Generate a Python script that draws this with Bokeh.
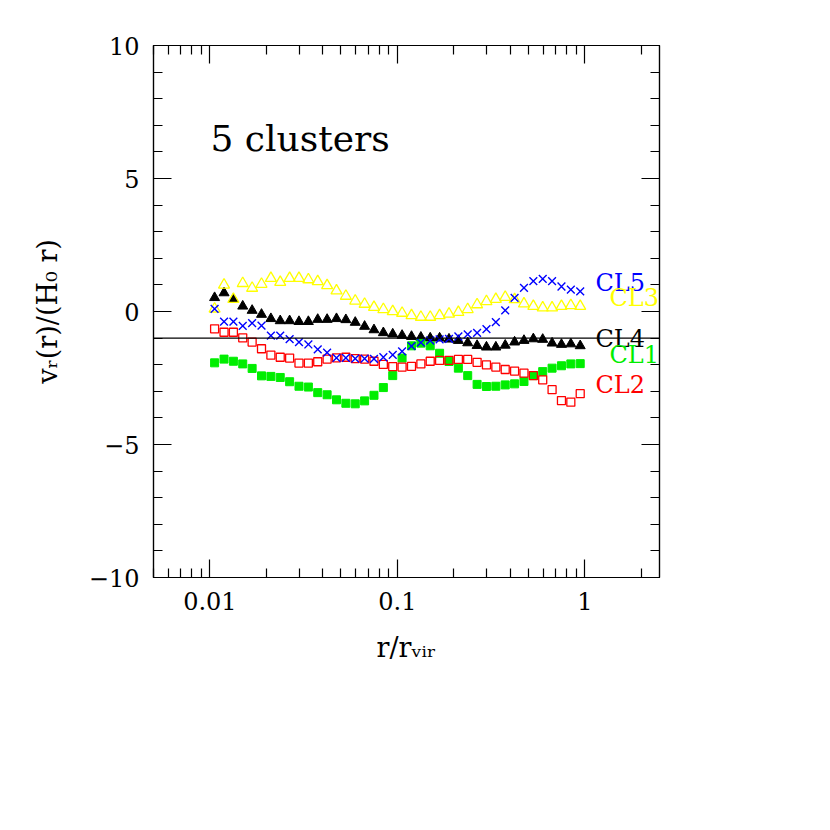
import math
from bokeh.plotting import figure
from bokeh.models import (FixedTicker, LinearAxis, LogAxis, Span, Label, Range1d,
                          CustomJSTickFormatter)
from bokeh.embed import file_html
from bokeh.resources import INLINE

# ---------------- data ----------------
r_over_rvir = [0.01059, 0.01189, 0.01334, 0.01496, 0.01679, 0.01884, 0.02114, 0.02371,
               0.02661, 0.02985, 0.03350, 0.03758, 0.04217, 0.04732, 0.05309, 0.05957,
               0.06683, 0.07499, 0.08414, 0.09441, 0.1059, 0.1189, 0.1334, 0.1496,
               0.1679, 0.1884, 0.2114, 0.2371, 0.2661, 0.2985, 0.3350, 0.3758,
               0.4217, 0.4732, 0.5309, 0.5957, 0.6683, 0.7499, 0.8414, 0.9441]

cl1 = [-1.93, -1.79, -1.87, -1.97, -2.14, -2.42, -2.44, -2.48, -2.64, -2.81,
       -2.84, -3.05, -3.13, -3.32, -3.45, -3.47, -3.36, -3.15, -2.86, -2.41,
       -1.75, -1.29, -1.19, -1.29, -1.57, -1.88, -2.13, -2.41, -2.74, -2.82,
       -2.81, -2.76, -2.72, -2.63, -2.41, -2.26, -2.13, -2.04, -1.97, -1.96]

cl2 = [-0.65, -0.78, -0.78, -0.99, -1.15, -1.40, -1.64, -1.72, -1.75, -1.94,
       -1.94, -1.89, -1.79, -1.74, -1.72, -1.77, -1.79, -1.87, -1.99, -2.07,
       -2.09, -2.06, -1.97, -1.87, -1.84, -1.84, -1.80, -1.80, -1.91, -2.01,
       -2.09, -2.18, -2.24, -2.32, -2.41, -2.57, -2.94, -3.35, -3.41, -3.09]

cl3 = [0.10, 1.00, 0.46, 1.06, 0.88, 1.03, 1.25, 1.10, 1.25, 1.25,
       1.20, 1.13, 0.98, 0.78, 0.58, 0.40, 0.28, 0.16, 0.08, 0.00,
       -0.06, -0.15, -0.21, -0.21, -0.15, -0.09, -0.03, 0.08, 0.26, 0.38,
       0.46, 0.54, 0.45, 0.29, 0.20, 0.14, 0.14, 0.20, 0.23, 0.20]

cl4 = [0.52, 0.70, 0.46, 0.20, 0.04, -0.11, -0.27, -0.35, -0.35, -0.38,
       -0.38, -0.30, -0.30, -0.27, -0.31, -0.41, -0.56, -0.69, -0.80, -0.85,
       -0.90, -0.94, -0.97, -1.00, -1.00, -1.04, -1.09, -1.18, -1.28, -1.34,
       -1.34, -1.27, -1.15, -1.09, -1.03, -1.05, -1.19, -1.24, -1.22, -1.29]

cl5 = [0.10, -0.38, -0.38, -0.54, -0.44, -0.53, -0.91, -0.91, -1.04, -1.15,
       -1.24, -1.42, -1.55, -1.74, -1.74, -1.77, -1.77, -1.78, -1.72, -1.63,
       -1.50, -1.30, -1.17, -1.09, -1.05, -1.03, -0.94, -0.86, -0.80, -0.66,
       -0.40, 0.04, 0.51, 0.89, 1.14, 1.23, 1.14, 0.94, 0.82, 0.76]

reference_level = -1.0

x_major_ticks = [0.01, 0.1, 1.0]
x_major_labels = ["0.01", "0.1", "1"]
x_minor_ticks = [0.005, 0.006, 0.007, 0.008, 0.009,
                 0.02, 0.03, 0.04, 0.05, 0.06, 0.07, 0.08, 0.09,
                 0.2, 0.3, 0.4, 0.5, 0.6, 0.7, 0.8, 0.9, 2.0]
y_major_ticks = [-10, -5, 0, 5, 10]
y_major_labels = ["\u221210", "\u22125", "0", "5", "10"]
y_minor_ticks = list(range(-10, 11))

series_labels = ["CL5", "CL3", "CL4", "CL1", "CL2"]
title_text = "5 clusters"
x_title = "r/r\u1d65\u1d62\u1d63"                 # r/r_vir
y_title = "v\u1d63(r)/(H\u2080 r)"                # v_r(r)/(H_0 r)

# ---------------- layout ----------------
W, H = 790, 790
FL, FT, FW, FH = 153, 45, 506, 532
X0, X1 = 0.005, 2.5
Y0, Y1 = -10.0, 10.0
FONT = "DejaVu Serif"
GREEN = "#00ee00"
BASE_SHIFT = 0.37   # baseline correction (fraction of font size)

def px2x(px):  # page px -> data x
    lx0, lx1 = math.log10(X0), math.log10(X1)
    return 10 ** (lx0 + (px - FL) / FW * (lx1 - lx0))

def py2y(py):  # page px -> data y
    return Y1 - (py - FT) / FH * (Y1 - Y0)

p = figure(width=W, height=H, x_axis_type="log",
           x_range=Range1d(X0, X1), y_range=Range1d(Y0, Y1),
           output_backend="svg", toolbar_location=None,
           min_border_left=FL, min_border_right=W - FL - FW,
           min_border_top=FT, min_border_bottom=H - FT - FH)
p.grid.visible = False
p.outline_line_color = "black"
p.outline_line_width = 1.2
p.background_fill_color = "white"
p.border_fill_color = "white"

def style_axis(ax, show_labels):
    ax.axis_line_color = "black"
    ax.axis_line_width = 1.2
    ax.major_tick_line_color = "black"
    ax.minor_tick_line_color = "black"
    ax.major_tick_line_width = 1.2
    ax.minor_tick_line_width = 1.2
    ax.major_tick_in = 18
    ax.major_tick_out = 0
    ax.minor_tick_in = 9
    ax.minor_tick_out = 0
    ax.major_label_text_font = FONT
    ax.major_label_text_color = "black"
    if show_labels:
        ax.major_label_text_font_size = "24px"
        ax.major_label_standoff = 14
        ax.axis_label_text_font = FONT
        ax.axis_label_text_font_size = "27px"
        ax.axis_label_text_font_style = "normal"
        ax.axis_label_text_color = "black"
    else:
        ax.formatter = CustomJSTickFormatter(code="return ''")
        ax.major_label_text_font_size = "8px"
        ax.major_label_standoff = 0

p.xaxis.ticker = FixedTicker(ticks=x_major_ticks, minor_ticks=x_minor_ticks)
p.yaxis.ticker = FixedTicker(ticks=y_major_ticks, minor_ticks=y_minor_ticks)
p.xaxis.major_label_overrides = {t: s for t, s in zip(x_major_ticks, x_major_labels)}
p.yaxis.major_label_overrides = {t: s for t, s in zip(y_major_ticks, y_major_labels)}
style_axis(p.xaxis[0], True)
style_axis(p.yaxis[0], True)
p.xaxis.axis_label = x_title
p.yaxis.axis_label = y_title
p.xaxis.axis_label_standoff = 19
p.yaxis.axis_label_standoff = 23

top = LogAxis(ticker=FixedTicker(ticks=x_major_ticks, minor_ticks=x_minor_ticks))
right = LinearAxis(ticker=FixedTicker(ticks=y_major_ticks, minor_ticks=y_minor_ticks))
style_axis(top, False)
style_axis(right, False)
p.add_layout(top, "above")
p.add_layout(right, "right")

p.add_layout(Span(location=reference_level, dimension="width",
                  line_color="black", line_width=1.3))

# series
p.scatter(r_over_rvir, cl4, marker="triangle", size=10,
          fill_color="black", line_color="black")
p.scatter(r_over_rvir, cl3, marker="triangle", size=11,
          fill_color=None, line_color="#ffff00", line_width=1.3)
p.scatter(r_over_rvir, cl1, marker="square", size=8,
          fill_color=GREEN, line_color=GREEN)
p.scatter(r_over_rvir, cl2, marker="square", size=8,
          fill_color=None, line_color="#ff0000", line_width=1.3)
p.scatter(r_over_rvir, cl5, marker="x", size=11,
          line_color="#0000ff", line_width=1.4)

# series labels (page px positions: left, baseline)
lab_pos = {"CL5": (595, 291.5), "CL3": (609, 306.5), "CL4": (595, 347),
           "CL1": (609, 363), "CL2": (595, 393)}
lab_col = {"CL5": "#0000ff", "CL3": "#ffff00", "CL4": "black",
           "CL1": GREEN, "CL2": "#ff0000"}
LAB_SIZE = 24
for name in series_labels:
    lx, ly = lab_pos[name]
    p.add_layout(Label(x=px2x(lx), y=py2y(ly), text=name, text_font=FONT,
                       text_font_size=f"{LAB_SIZE}px", text_color=lab_col[name],
                       text_align="left", text_baseline="alphabetic",
                       y_offset=BASE_SHIFT * LAB_SIZE))

TITLE_SIZE = 36
p.add_layout(Label(x=px2x(210), y=py2y(151), text=title_text, text_font=FONT,
                   text_font_size=f"{TITLE_SIZE}px", text_color="black",
                   text_align="left", text_baseline="alphabetic",
                   y_offset=BASE_SHIFT * TITLE_SIZE))

open("out.html", "w").write(file_html(p, INLINE))
